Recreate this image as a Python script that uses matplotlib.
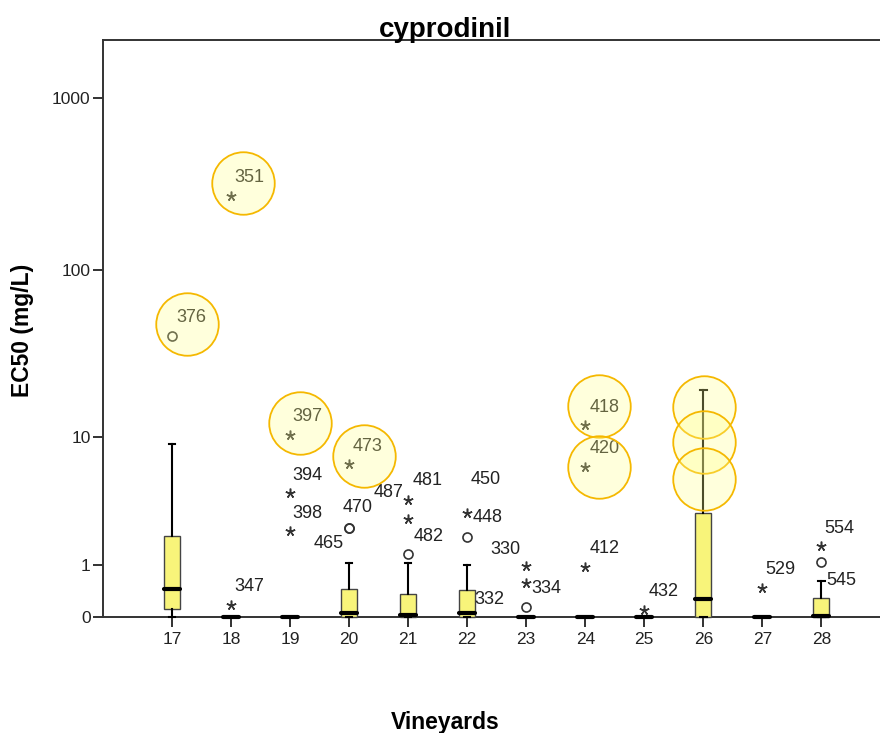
import numpy as np
import matplotlib.pyplot as plt
from matplotlib.transforms import ScaledTranslation

plt.rcParams['font.family'] = ['Liberation Sans', 'DejaVu Sans']

# box statistics per vineyard (EC50, mg/L)
vineyards = [17, 18, 19, 20, 21, 22, 23, 24, 25, 26, 27, 28]
whislo = [0, 0, 0, 0, 0, 0, 0, 0, 0, 0, 0, 0]
q1 = [0.11, 0, 0, 0, 0, 0, 0, 0, 0, 0, 0, 0]
med = [0.45, 0, 0, 0.06, 0.03, 0.05, 0, 0, 0, 0.27, 0, 0.02]
q3 = [1.94, 0, 0, 0.45, 0.36, 0.43, 0, 0, 0, 2.99, 0, 0.29]
whishi = [9.0, 0, 0, 1.05, 1.05, 1.0, 0, 0, 0, 19.6, 0, 0.61]

# outliers: vineyard, value, kind ('o' mild, '*' extreme), case label
out_site = [17, 18, 18, 19, 19, 19, 20, 20, 20, 21, 21, 21, 22, 22, 23, 23, 23,
            24, 24, 24, 25, 27, 28, 28]
out_val = [41.1, 0.17, 270, 10.3, 4.2, 2.14, 6.7, 2.27, 2.27, 3.75, 2.69, 1.31,
           3.0, 1.9, 0.97, 0.57, 0.14, 11.9, 6.4, 0.95, 0.1, 0.47, 1.57, 1.08]
out_kind = ['o', '*', '*', '*', '*', '*', '*', 'o', 'o', '*', '*', 'o',
            '*', 'o', '*', '*', 'o', '*', '*', '*', '*', '*', '*', 'o']
out_lab = ['376', '347', '351', '397', '394', '398', '473', '470', '465', '481',
           '487', '482', '450', '448', '330', '334', '', '418', '420', '412',
           '432', '529', '554', '545']

# case label sitting on the box of vineyard 22
extra_site = [22]
extra_val = [0.0]
extra_lab = ['332']

# highlighted cases (vineyard, value)
hl_site = [17, 18, 19, 20, 24, 24, 26, 26, 26]
hl_val = [41.1, 270, 10.3, 6.7, 11.9, 6.4, 15.4, 9.3, 5.3]

# label offsets in pixels (right, up)
lab_off = [(19, 18), (18, 19), (18, 19), (17, 18), (17, 18), (17, 18), (18, 17),
           (8, 20), (-21, -16), (19, 19), (-20, 26), (20, 18), (18, 33), (20, 20),
           (-21, 17), (20, -5), (0, 0), (19, 17), (19, 18), (19, 18), (19, 18),
           (18, 19), (18, 18), (20, -19)]
extra_off = [(22, 17)]
hl_off = [(15, 12), (12, 13), (10, 12), (15, 8), (14, 19), (14, 0), (1, 0), (1, 0), (1, 0)]

fig = plt.figure(figsize=(8.8, 7.33), dpi=100)
ax = fig.add_axes([103 / 880, 1 - 617 / 733, 777 / 880 + 0.003, 577 / 733])

# log10(y + 1) axis
ax.set_yscale('function', functions=(lambda y: np.log10(np.clip(y, 0, None) + 1),
                                     lambda y: 10 ** y - 1))
ax.set_ylim(0, 2163)
ax.set_xlim(-1.173, 12.04)

pos = {v: i for i, v in enumerate(vineyards)}
stats = []
for i in range(len(vineyards)):
    stats.append(dict(whislo=whislo[i], q1=q1[i], med=med[i], q3=q3[i],
                      whishi=whishi[i], fliers=[]))

bp = ax.bxp(stats, positions=range(len(vineyards)), widths=0.27, capwidths=0.11,
            patch_artist=True, showfliers=False,
            boxprops=dict(facecolor='#F8F47A', edgecolor='#444444', linewidth=1.0),
            medianprops=dict(color='black', linewidth=3.0, solid_capstyle='round'),
            whiskerprops=dict(color='black', linewidth=1.5),
            capprops=dict(color='black', linewidth=1.5))
for group in bp.values():
    for art in group:
        art.set_clip_on(False)
        art.set_zorder(3)

# outliers and their case numbers
for s, v, k, lab, off in zip(out_site, out_val, out_kind, out_lab, lab_off):
    x = pos[s]
    if k == 'o':
        ax.plot(x, v, marker='o', ms=6.5, mfc='none', mec='#333333', mew=1.2,
                ls='none', zorder=4, clip_on=False)
    else:
        ax.plot(x, v, marker=(5, 2, 0), ms=7, mec='#333333', mew=1.1,
                ls='none', zorder=4, clip_on=False)
    if lab:
        ax.annotate(lab, (x, v), xytext=off, textcoords='offset pixels',
                    ha='center', va='center', fontsize=13, color='#222222',
                    zorder=5)

for s, v, lab, off in zip(extra_site, extra_val, extra_lab, extra_off):
    ax.annotate(lab, (pos[s], v), xytext=off, textcoords='offset pixels',
                ha='center', va='center', fontsize=13, color='#222222', zorder=5)

# highlight rings
for s, v, off in zip(hl_site, hl_val, hl_off):
    tr = ax.transData + ScaledTranslation(off[0] / 100, off[1] / 100, fig.dpi_scale_trans)
    ax.plot(pos[s], v, marker='o', ms=45, mfc=(1, 1, 0.55, 0.3), mec='#F5B800',
            mew=1.3, ls='none', transform=tr, zorder=6, clip_on=False)

ax.set_xticks(range(len(vineyards)))
ax.set_xticklabels([str(v) for v in vineyards])
ax.set_yticks([0, 1, 10, 100, 1000])
ax.set_yticklabels(['0', '1', '10', '100', '1000'])
ax.yaxis.set_minor_locator(plt.NullLocator())
ax.tick_params(axis='both', length=7, width=1.3, labelsize=12.5, colors='#222222',
               direction='out')
ax.tick_params(axis='x', pad=4)
ax.tick_params(axis='y', pad=2)

for side in ['left', 'bottom', 'top']:
    ax.spines[side].set_linewidth(1.4)
    ax.spines[side].set_color('#333333')
ax.spines['right'].set_visible(False)

fig.text(445 / 880, 1 - 37 / 733, 'cyprodinil', ha='center', va='baseline',
         fontsize=20, fontweight='bold')
fig.text(22 / 880, 1 - 330 / 733, 'EC50 (mg/L)', rotation=90, ha='center',
         va='center', fontsize=16.5, fontweight='bold')
fig.text(445 / 880, 1 - 729 / 733, 'Vineyards', ha='center', va='baseline',
         fontsize=16.5, fontweight='bold')

fig.savefig('out.png', dpi=100)
